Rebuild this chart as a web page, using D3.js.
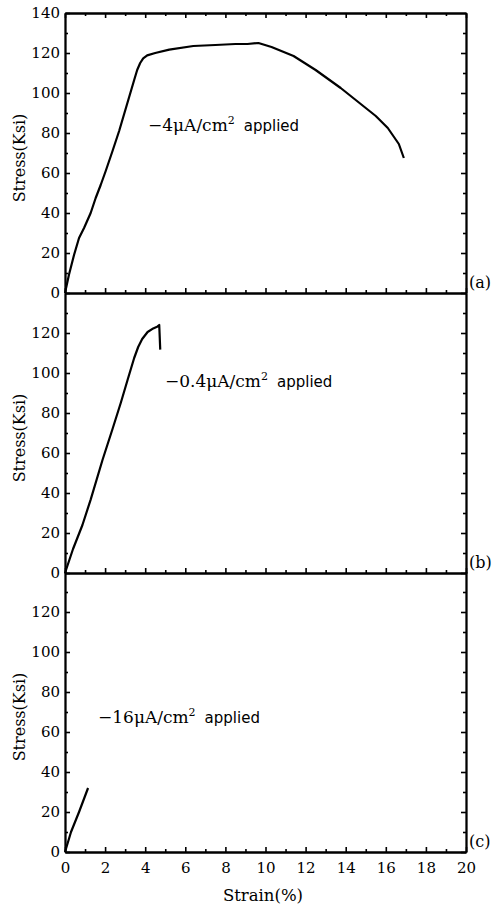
<!DOCTYPE html>
<html>
<head>
<meta charset="utf-8">
<script src="https://cdn.jsdelivr.net/npm/d3@7"></script>
<style>
  body { margin: 0; background: #fff; }
  svg { display: block; }
</style>
</head>
<body>
<svg id="chart" width="499" height="908"></svg>
<script>
var serif = '"DejaVu Serif", "Liberation Serif", serif';
var sans = '"DejaVu Sans", "Liberation Sans", sans-serif';

// curve (a): -4 uA/cm2
var strainA = [0, 0.2, 0.45, 0.7, 0.95, 1.28, 1.53, 1.78, 2.03, 2.37, 2.7, 2.95, 3.2, 3.45, 3.6, 3.75, 3.9, 4.1, 4.5, 5.2, 6.4, 7.5, 8.5, 9.1, 9.65, 10.3, 11.4, 12.5, 13.75, 14.75, 15.5, 16.1, 16.65, 16.9];
var stressA = [0, 9.2, 19, 27.5, 32.5, 40, 47.5, 54, 61, 71, 81, 89.5, 98, 106.5, 111.5, 115, 117.3, 118.8, 120, 121.7, 123.5, 124, 124.5, 124.5, 125, 123, 118.5, 111.5, 102.5, 94.5, 88.5, 82.5, 74.5, 67.5];
// curve (b): -0.4 uA/cm2
var strainB = [0, 0.4, 0.87, 1.28, 1.87, 2.37, 2.78, 3.12, 3.45, 3.65, 3.85, 4.12, 4.4, 4.62, 4.7, 4.75];
var stressB = [0, 12, 24, 36.7, 56.5, 72, 85, 96.5, 107.5, 113, 117, 120.5, 122.3, 123.3, 124, 111.7];
// curve (c): -16 uA/cm2
var strainC = [0, 0.3, 0.7, 1.15];
var stressC = [0, 10, 20, 32];

var xTicks = [0, 2, 4, 6, 8, 10, 12, 14, 16, 18, 20];
var xMinor = [1, 3, 5, 7, 9, 11, 13, 15, 17, 19];
var yTicksTop = [0, 20, 40, 60, 80, 100, 120, 140];
var yTicksRest = [0, 20, 40, 60, 80, 100, 120];
var yMinor = [10, 30, 50, 70, 90, 110, 130];

var panels = [
  {id: 'a', strain: strainA, stress: stressA, yTicks: yTicksTop, label: '\u22124\u03bcA/cm', note: [148, 131]},
  {id: 'b', strain: strainB, stress: stressB, yTicks: yTicksRest, label: '\u22120.4\u03bcA/cm', note: [165, 387]},
  {id: 'c', strain: strainC, stress: stressC, yTicks: yTicksRest, label: '\u221216\u03bcA/cm', note: [98, 723]}
];

var svg = d3.select('#chart');
var left = 65, right = 466;
var tops = [13, 293, 572];
var ph = 280;

var x = d3.scaleLinear().domain([0, 20]).range([left, right]);

function styleAxis(a) {
  a.attr('font-family', serif).attr('font-size', 15);
  a.select('.domain').attr('stroke-width', 1.8);
  a.selectAll('.tick line').attr('stroke-width', 1.6);
}

panels.forEach(function(p, i) {
  var top = tops[i], bottom = top + ph;
  var y = d3.scaleLinear().domain([0, 140]).range([bottom, top]);
  var g = svg.append('g').attr('class', 'panel-' + p.id);

  // left axis with labels
  g.append('g')
    .attr('transform', 'translate(' + left + ',0)')
    .call(d3.axisLeft(y).tickValues(p.yTicks).tickSize(-5).tickSizeOuter(0).tickPadding(5).tickFormat(d3.format('d')))
    .call(styleAxis);
  g.append('g')
    .attr('transform', 'translate(' + left + ',0)')
    .call(d3.axisLeft(y).tickValues(yMinor).tickSize(-3).tickSizeOuter(0).tickFormat(''))
    .call(styleAxis);

  // right axis
  g.append('g')
    .attr('transform', 'translate(' + right + ',0)')
    .call(d3.axisRight(y).tickValues(yTicksRest).tickSize(-5).tickSizeOuter(0).tickFormat(''))
    .call(styleAxis);
  g.append('g')
    .attr('transform', 'translate(' + right + ',0)')
    .call(d3.axisRight(y).tickValues(yMinor).tickSize(-3).tickSizeOuter(0).tickFormat(''))
    .call(styleAxis);

  // bottom axis
  var bx = d3.axisBottom(x).tickValues(xTicks).tickSize(-5).tickSizeOuter(0).tickPadding(10);
  if (p.id !== 'c') bx.tickFormat('');
  g.append('g')
    .attr('transform', 'translate(0,' + bottom + ')')
    .call(bx)
    .call(styleAxis);
  g.append('g')
    .attr('transform', 'translate(0,' + bottom + ')')
    .call(d3.axisBottom(x).tickValues(xMinor).tickSize(-3).tickSizeOuter(0).tickFormat(''))
    .call(styleAxis);

  // top axis (only first panel has its own top edge)
  if (i === 0) {
    g.append('g')
      .attr('transform', 'translate(0,' + top + ')')
      .call(d3.axisTop(x).tickValues(xTicks).tickSize(-5).tickSizeOuter(0).tickFormat(''))
      .call(styleAxis);
    g.append('g')
      .attr('transform', 'translate(0,' + top + ')')
      .call(d3.axisTop(x).tickValues(xMinor).tickSize(-3).tickSizeOuter(0).tickFormat(''))
      .call(styleAxis);
  }

  // curve
  var pts = p.strain.map(function(s, k) { return [s, p.stress[k]]; });
  g.append('path')
    .datum(pts)
    .attr('fill', 'none')
    .attr('stroke', '#000')
    .attr('stroke-width', 2.2)
    .attr('stroke-linejoin', 'round')
    .attr('d', d3.line().x(function(d) { return x(d[0]); }).y(function(d) { return y(d[1]); }));

  // y label
  g.append('text')
    .attr('transform', 'translate(25,' + (top + ph / 2 + 5) + ') rotate(-90)')
    .attr('text-anchor', 'middle')
    .attr('font-family', serif)
    .attr('font-size', 16)
    .text('Stress(Ksi)');

  // panel letter
  g.append('text')
    .attr('x', right + 3)
    .attr('y', bottom - 5)
    .attr('font-family', serif)
    .attr('font-size', 16)
    .text('(' + p.id + ')');

  // annotation
  var t = g.append('text')
    .attr('x', p.note[0])
    .attr('y', p.note[1])
    .attr('font-family', serif)
    .attr('font-size', 17);
  t.append('tspan').text(p.label);
  t.append('tspan').attr('dy', -7).attr('font-size', 11).text('2');
  t.append('tspan').attr('dy', 7).attr('dx', 9)
    .attr('font-family', sans)
    .attr('font-size', 15)
    .text('applied');
});

// x label
svg.append('text')
  .attr('x', 263)
  .attr('y', 901)
  .attr('text-anchor', 'middle')
  .attr('font-family', serif)
  .attr('font-size', 16.5)
  .text('Strain(%)');
</script>
</body>
</html>
